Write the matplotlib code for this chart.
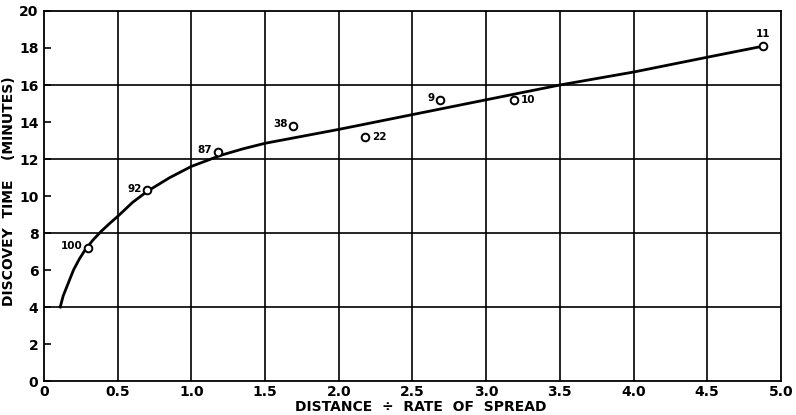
import matplotlib
matplotlib.use("Agg")
import matplotlib.pyplot as plt

# Observed points (x = distance / rate of spread, y = discovery time in minutes)
point_x = [0.30, 0.70, 1.18, 1.69, 2.18, 2.69, 3.19, 4.88]
point_y = [7.2, 10.3, 12.4, 13.8, 13.2, 15.2, 15.2, 18.1]
point_labels = ["100", "92", "87", "38", "22", "9", "10", "11"]
# where to put each label relative to its point
label_side = ["left", "left", "left", "left", "right", "left", "right", "above"]

# Fitted curve
curve_x = [0.11, 0.13, 0.16, 0.20, 0.24, 0.28, 0.33, 0.385, 0.45, 0.51, 0.60, 0.70, 0.85, 1.00,
           1.20, 1.35, 1.50, 2.00, 2.50, 3.00, 3.50, 4.00, 4.50, 4.88]
curve_y = [4.0, 4.6, 5.2, 6.0, 6.6, 7.1, 7.6, 8.07, 8.55, 8.97, 9.65, 10.25, 10.98, 11.6,
           12.2, 12.55, 12.85, 13.6, 14.4, 15.2, 16.0, 16.7, 17.5, 18.1]

x_ticks = [0, 0.5, 1.0, 1.5, 2.0, 2.5, 3.0, 3.5, 4.0, 4.5, 5.0]
x_tick_labels = ["0", "0.5", "1.0", "1.5", "2.0", "2.5", "3.0", "3.5", "4.0", "4.5", "5.0"]
y_ticks = [0, 2, 4, 6, 8, 10, 12, 14, 16, 18, 20]
y_grid = [4, 8, 12, 16]

fig = plt.figure(figsize=(7.96, 4.15), dpi=100)
ax = fig.add_axes([0.0553, 0.0819, 0.9257, 0.8916])
ax.set_xlim(0, 5.0)
ax.set_ylim(0, 20)

for xv in x_ticks[1:-1]:
    ax.axvline(xv, color="black", lw=1.2, zorder=1)
for yv in y_grid:
    ax.axhline(yv, color="black", lw=1.2, zorder=1)

for s in ax.spines.values():
    s.set_linewidth(1.3)
    s.set_color("black")

ax.plot(curve_x, curve_y, color="black", lw=2.0, zorder=3, solid_joinstyle="round")
ax.plot(point_x, point_y, "o", ms=5.5, mfc="white", mec="black", mew=1.4, zorder=4)

for px, py, lab, side in zip(point_x, point_y, point_labels, label_side):
    if side == "left":
        ax.annotate(lab, (px, py), xytext=(-4, 1), textcoords="offset points",
                    ha="right", va="center", fontsize=7.5, fontweight="bold", zorder=5)
    elif side == "right":
        ax.annotate(lab, (px, py), xytext=(5, 0), textcoords="offset points",
                    ha="left", va="center", fontsize=7.5, fontweight="bold", zorder=5)
    else:
        ax.annotate(lab, (px, py), xytext=(0, 5), textcoords="offset points",
                    ha="center", va="bottom", fontsize=7.5, fontweight="bold", zorder=5)

ax.set_xticks(x_ticks)
ax.set_xticklabels(x_tick_labels, fontsize=10, fontweight="bold")
ax.set_yticks(y_ticks)
ax.set_yticklabels([str(v) for v in y_ticks], fontsize=10, fontweight="bold")
ax.tick_params(axis="x", length=0, pad=3)
ax.tick_params(axis="y", direction="in", length=5, width=1.2, pad=4)

fig.text(0.529, 0.002, "DISTANCE  \u00f7  RATE  OF  SPREAD", fontsize=10, fontweight="bold",
         ha="center", va="bottom")
fig.text(0.003, 0.54, "DISCOVEY  TIME    (MINUTES)", fontsize=10, fontweight="bold",
         ha="left", va="center", rotation=90)

fig.savefig("out.png", dpi=100)
